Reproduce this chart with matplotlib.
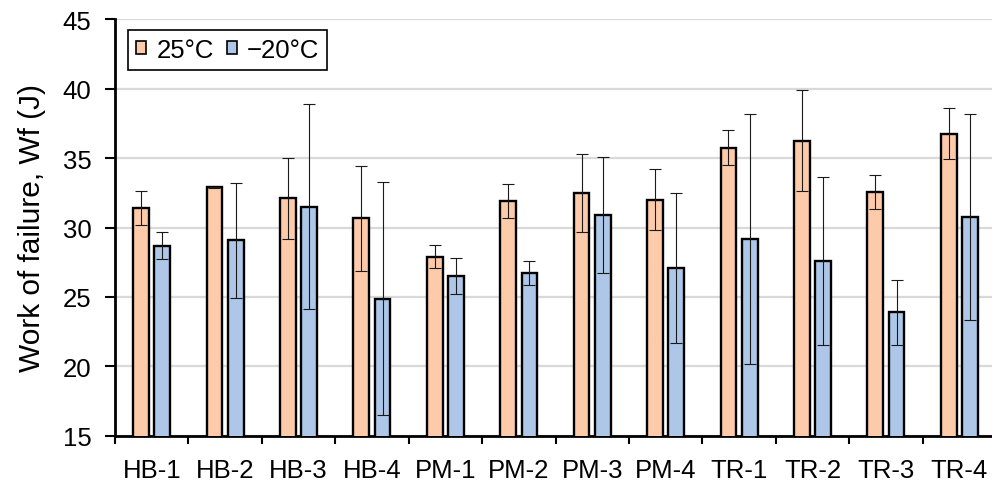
import matplotlib
matplotlib.use("Agg")
import matplotlib.pyplot as plt
import numpy as np
from matplotlib.ticker import FixedLocator

plt.rcParams['font.family'] = ['Liberation Sans', 'DejaVu Sans']

categories = ["HB-1", "HB-2", "HB-3", "HB-4", "PM-1", "PM-2", "PM-3", "PM-4",
              "TR-1", "TR-2", "TR-3", "TR-4"]
w25 = [31.4, 32.9, 32.1, 30.65, 27.9, 31.9, 32.5, 32.0, 35.75, 36.25, 32.55, 36.75]
w25_err = [1.25, 0.05, 2.9, 3.8, 0.85, 1.25, 2.8, 2.2, 1.27, 3.64, 1.25, 1.85]
wm20 = [28.7, 29.07, 31.5, 24.86, 26.5, 26.75, 30.9, 27.1, 29.16, 27.58, 23.88, 30.74]
wm20_err = [1.0, 4.15, 7.4, 8.4, 1.28, 0.87, 4.15, 5.4, 9.0, 6.06, 2.34, 7.42]
series_labels = ["25°C", "\u221220°C"]
ylabel = "Work of failure, Wf (J)"

c_orange = "#FDCBAA"
c_blue = "#AEC7E8"

fig = plt.figure(figsize=(9.92, 4.81), dpi=100)
ax = fig.add_axes([115 / 992, 1 - 436.7 / 481, 881 / 992, 416.4 / 481])

x = np.arange(len(categories))
off = 0.145
bw = 0.215
err_kw = dict(ecolor="#1a1a1a", elinewidth=0.8, capsize=4, capthick=0.8, zorder=4)
ax.bar(x - off, w25, bw, color=c_orange, edgecolor="black", linewidth=1.7,
       label=series_labels[0], zorder=3)
ax.bar(x + off, wm20, bw, color=c_blue, edgecolor="black", linewidth=1.7,
       label=series_labels[1], zorder=3)
ax.errorbar(x - off, w25, yerr=w25_err, fmt="none", **err_kw)
ax.errorbar(x + off, wm20, yerr=wm20_err, fmt="none", **err_kw)

ax.set_xlim(-0.5, len(categories) - 0.5)
ax.set_ylim(15, 45)
ax.set_yticks(np.arange(15, 46, 5))
ax.yaxis.grid(True, color="#d9d9d9", linewidth=1.6, zorder=0)
ax.set_axisbelow(True)

ax.set_xticks(x)
ax.set_xticklabels(categories, fontsize=18.5)
ax.xaxis.set_minor_locator(FixedLocator(np.arange(-0.5, len(categories), 1.0)))
ax.tick_params(axis="x", which="major", length=0, pad=16)
ax.tick_params(axis="x", which="minor", length=6, width=1.5, direction="out", color="black")
ax.tick_params(axis="y", which="major", length=7, width=1.5, direction="out",
               labelsize=18.5, pad=10)

for s in ["top", "right"]:
    ax.spines[s].set_visible(False)
for s in ["left", "bottom"]:
    ax.spines[s].set_linewidth(2)
    ax.spines[s].set_color("black")

ax.set_ylabel(ylabel, fontsize=21.5, labelpad=12)

leg = ax.legend(loc="upper left", bbox_to_anchor=(0.0148, 0.974), borderaxespad=0,
                ncol=2, fontsize=18.5, frameon=True, fancybox=False, framealpha=1,
                edgecolor="black", handlelength=0.4, handleheight=0.4,
                handletextpad=0.4, columnspacing=0.5, borderpad=0.3)
leg.get_frame().set_linewidth(1.2)
for h in leg.legend_handles:
    h.set_linewidth(1.2)

fig.savefig("out.png", dpi=100)
